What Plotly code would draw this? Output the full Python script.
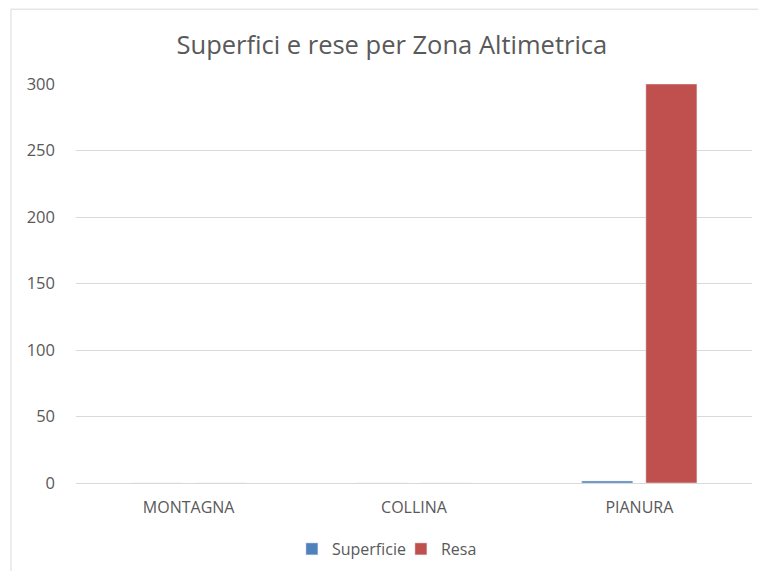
import plotly.graph_objects as go

zone = ['MONTAGNA', 'COLLINA', 'PIANURA']
superficie = [0, 0, 1.5]
resa = [0, 0, 300]

grey_text = '#595959'
grid = '#D9D9D9'

fig = go.Figure()
fig.add_trace(go.Bar(x=zone, y=superficie, name='Superficie', marker_color='#4F81BD'))
fig.add_trace(go.Bar(x=zone, y=resa, name='Resa', marker_color='#C0504D'))

fig.update_layout(
    width=758, height=571,
    margin=dict(l=76, r=6, t=84, b=87),
    paper_bgcolor='white', plot_bgcolor='white',
    font=dict(family='Open Sans', color=grey_text, size=16),
    title=dict(text='Superfici e rese per Zona Altimetrica', font=dict(size=25.5, color=grey_text),
               x=0.517, xref='container', xanchor='center', y=1 - 45 / 571, yanchor='middle'),
    barmode='group', bargap=0.431, bargroupgap=0.203,
    legend=dict(orientation='h', x=0.3194, xanchor='left', y=-0.1625, yanchor='middle',
                font=dict(size=16), itemwidth=30, entrywidth=64, traceorder='normal'),
    shapes=[dict(type='rect', xref='paper', yref='paper', x0=-0.0962, x1=1.1, y0=-0.4, y1=1.1875,
                 line=dict(color=grid, width=1), layer='below')],
)
fig.update_xaxes(showline=True, linecolor=grid, ticks='', ticklabelstandoff=10,
                 tickfont=dict(size=16, color=grey_text))
fig.update_yaxes(range=[0, 300], dtick=50, showgrid=True, gridcolor=grid, zeroline=False,
                 ticklabelstandoff=20, tickfont=dict(size=16.5, color=grey_text))

# drop the default 8px body margin so the figure fills the window exactly
fig.write_html('out.html', config={'displayModeBar': False},
               post_script="document.body.style.margin='0';")
